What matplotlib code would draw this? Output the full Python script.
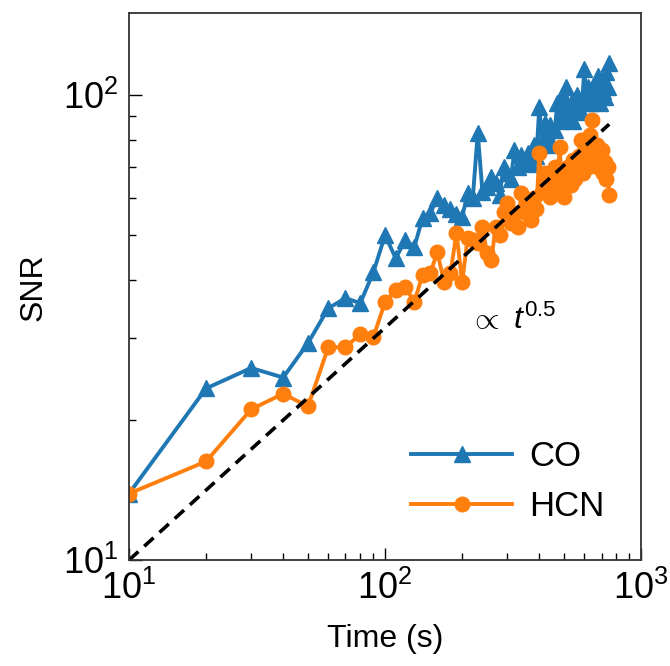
import numpy as np
import matplotlib
matplotlib.use("Agg")
import matplotlib.pyplot as plt

plt.rcParams['font.family'] = ['Liberation Sans', 'DejaVu Sans']
plt.rcParams['mathtext.fontset'] = 'custom'
plt.rcParams['mathtext.rm'] = 'Liberation Sans'
plt.rcParams['mathtext.it'] = 'Liberation Sans:italic'

# time axis, one point every 10 s
t = np.arange(10, 760, 10)

snr_co = [13.9, 23.4, 25.9, 24.7, 29.3, 34.8, 36.6, 35.7, 41.6, 50.0,
          44.6, 48.8, 47.1, 54.4, 55.7, 60.0, 58.0, 57.0, 55.5, 54.7,
          61.5, 60.0, 83.0, 62.0, 63.4, 66.7, 64.7, 61.0, 70.0, 67.9,
          66.0, 76.2, 70.0, 74.3, 72.0, 75.0, 71.0, 78.0, 74.0, 94.2,
          80.0, 87.1, 82.0, 86.3, 78.0, 84.0, 96.1, 88.0, 99.2, 92.0,
          104.0, 90.0, 96.0, 88.0, 96.0, 100.0, 94.0, 92.0, 99.0, 114.0,
          96.0, 104.0, 96.0, 100.0, 104.0, 98.0, 102.0, 110.0, 96.0, 108.0,
          102.0, 99.0, 112.0, 104.0, 117.0]

snr_hcn = [13.9, 16.3, 21.1, 22.8, 21.4, 28.7, 28.7, 30.6, 30.2, 35.9,
           38.1, 38.7, 35.9, 41.0, 41.4, 45.9, 39.6, 41.4, 50.5, 39.6,
           49.2, 48.7, 48.0, 52.0, 45.7, 44.2, 52.0, 50.0, 56.0, 58.6,
           53.1, 55.7, 52.0, 61.5, 56.0, 58.6, 54.0, 60.0, 57.0, 75.0,
           62.0, 67.9, 64.0, 60.3, 66.0, 70.0, 62.0, 77.3, 66.0, 60.3,
           68.0, 70.0, 64.0, 72.4, 66.0, 70.0, 74.0, 80.0, 68.0, 72.0,
           76.0, 70.0, 82.0, 88.3, 76.2, 72.0, 78.0, 70.0, 74.0, 76.2,
           68.0, 72.0, 66.0, 70.0, 61.0]

fig = plt.figure(figsize=(6.7, 6.66), dpi=100)
ax = fig.add_axes([0.1925, 0.159, 0.7645, 0.821])

ax.plot(t, snr_co, color='#1f77b4', marker='^', markersize=11, lw=2.8, label='CO')
ax.plot(t, snr_hcn, color='#ff7f0e', marker='o', markersize=10.5, lw=2.8, label='HCN')

# t^0.5 guide line
t_fit = np.array([10, 750])
ax.plot(t_fit, np.sqrt(10 * t_fit), color='black', ls=(0, (3.5, 2.2)), lw=2.6)
ax.text(212, 32.8, r'$\propto\ t^{0.5}$', fontsize=23, va='center')

ax.set_xscale('log')
ax.set_yscale('log')
ax.set_xlim(10, 1000)
ax.set_ylim(10, 150)

ax.set_xlabel('Time (s)', fontsize=23, labelpad=12)
ax.set_ylabel('SNR', fontsize=23, labelpad=10)
ax.tick_params(which='both', direction='in', labelsize=26, width=1)
ax.tick_params(which='major', length=9, pad=8)
ax.tick_params(which='minor', length=5)
ax.yaxis.set_minor_formatter(matplotlib.ticker.NullFormatter())

for s in ax.spines.values():
    s.set_linewidth(1.3)
    s.set_color('#333333')

ax.legend(loc='lower right', frameon=False, fontsize=25, handlelength=2.9,
          bbox_to_anchor=(0.99, 0.01), handletextpad=0.5, labelspacing=0.5)

fig.savefig('out.png', dpi=100)
